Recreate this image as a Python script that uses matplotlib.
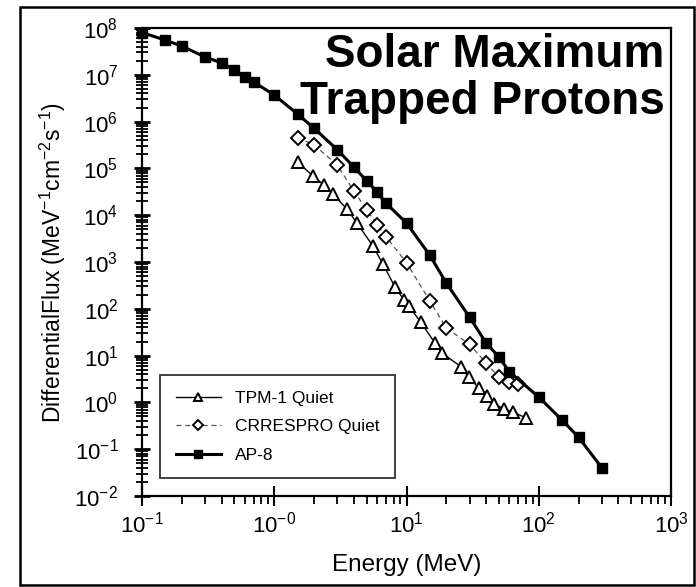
import matplotlib
matplotlib.use("Agg")
import matplotlib.pyplot as plt
from matplotlib.patches import Rectangle
from matplotlib.ticker import LogLocator, NullFormatter

plt.rcParams['font.family'] = ['Liberation Sans', 'DejaVu Sans']
plt.rcParams['mathtext.fontset'] = 'custom'
plt.rcParams['mathtext.rm'] = 'Liberation Sans'
plt.rcParams['mathtext.it'] = 'Liberation Sans:italic'
plt.rcParams['mathtext.bf'] = 'Liberation Sans:bold'

# ---- data ----
ap8_energy = [0.1, 0.15, 0.2, 0.3, 0.4, 0.5, 0.6, 0.7, 1.0, 1.5, 2, 3, 4, 5, 6, 7,
              10, 15, 20, 30, 40, 50, 60, 100, 150, 200, 300]
ap8_flux = [8e7, 5.5e7, 4.1e7, 2.4e7, 1.8e7, 1.26e7, 8.9e6, 7e6, 3.7e6, 1.45e6, 7.2e5,
            2.5e5, 1.07e5, 5.4e4, 3.1e4, 1.8e4, 6.8e3, 1.4e3, 355, 66, 18.6, 9.3, 4.5,
            1.3, 0.42, 0.18, 0.04]

crres_energy = [1.5, 2, 3, 4, 5, 6, 7, 10, 15, 20, 30, 40, 50, 60, 70]
crres_flux = [4.5e5, 3.2e5, 1.17e5, 3.3e4, 1.3e4, 6.3e3, 3.5e3, 960, 148, 39, 17.4,
              6.9, 3.5, 2.7, 2.5]

tpm_energy = [1.5, 1.96, 2.38, 2.78, 3.55, 4.22, 5.57, 6.64, 8.17, 9.55, 10.4, 12.8,
              16.4, 18.5, 25.8, 29.6, 35.2, 40.5, 45.8, 54.5, 63.7, 79.8]
tpm_flux = [1.37e5, 6.9e4, 4.4e4, 2.8e4, 1.35e4, 6.8e3, 2.2e3, 900, 295, 155, 115, 52,
            18.6, 11.4, 5.8, 3.5, 2.0, 1.37, 0.93, 0.73, 0.62, 0.47]

x_ticks = [0.1, 1, 10, 100, 1000]
x_tick_labels = [r'$\mathregular{10^{-1}}$', r'$\mathregular{10^{-0}}$',
                 r'$\mathregular{10^{1}}$', r'$\mathregular{10^{2}}$',
                 r'$\mathregular{10^{3}}$']
y_ticks = [1e-2, 1e-1, 1, 10, 1e2, 1e3, 1e4, 1e5, 1e6, 1e7, 1e8]
y_tick_labels = [r'$\mathregular{10^{%d}}$' % e for e in range(-2, 9)]

series_labels = ['TPM-1 Quiet', 'CRRESPRO Quiet', 'AP-8']
title_text = 'Solar Maximum\nTrapped Protons'

# ---- figure ----
fig = plt.figure(figsize=(6.96, 5.87), dpi=100)
ax = fig.add_axes([142/696, 1-496/587, 529/696, 468/587])
ax.set_xscale('log')
ax.set_yscale('log')
ax.set_xlim(0.1, 1000)
ax.set_ylim(1e-2, 1e8)

ax.plot(tpm_energy, tpm_flux, '-', color='black', lw=1.0, marker='^', ms=8,
        mfc='white', mec='black', mew=1.4, label=series_labels[0], zorder=3)
ax.plot(crres_energy, crres_flux, '--', color='#555555', lw=0.9, marker='D', ms=7,
        mfc='white', mec='black', mew=1.4, label=series_labels[1], zorder=3,
        dashes=(4, 3))
ax.plot(ap8_energy, ap8_flux, '-', color='black', lw=2.2, marker='s', ms=7.5,
        mfc='black', mec='black', label=series_labels[2], zorder=4, clip_on=False)

ax.set_xticks(x_ticks)
ax.set_xticklabels(x_tick_labels, fontsize=16)
ax.set_yticks(y_ticks)
ax.set_yticklabels(y_tick_labels, fontsize=16)
ax.xaxis.set_minor_locator(LogLocator(base=10, subs=range(2, 10), numticks=20))
ax.yaxis.set_minor_locator(LogLocator(base=10, subs=range(2, 10), numticks=20))
ax.xaxis.set_minor_formatter(NullFormatter())
ax.yaxis.set_minor_formatter(NullFormatter())
ax.tick_params(axis='x', which='major', direction='inout', length=14, width=1.5, pad=4)
ax.tick_params(axis='x', which='minor', direction='out', length=6, width=1.3)
ax.tick_params(axis='y', which='major', direction='inout', length=12, width=2, pad=11)
ax.tick_params(axis='y', which='minor', direction='inout', length=8, width=1.3)
for s in ax.spines.values():
    s.set_linewidth(1.6)

ax.set_xlabel('Energy (MeV)', fontsize=17.5, labelpad=12)
ax.set_ylabel(r'DifferentialFlux (MeV$\mathregular{^{-1}}$cm$\mathregular{^{-2}}$s$\mathregular{^{-1}}$)',
              fontsize=16.5, labelpad=5)

ax.text(0.988, 0.99, title_text, transform=ax.transAxes, ha='right', va='top',
        fontsize=33, fontweight='bold', linespacing=1.1)

leg = ax.legend(loc='lower left', bbox_to_anchor=(0.034, 0.038), borderaxespad=0,
                fontsize=12.5, frameon=True, fancybox=False, edgecolor='black',
                handlelength=2.6, borderpad=0.9, labelspacing=0.75, markerscale=0.8)
leg.get_frame().set_linewidth(1.3)

fig.patches.append(Rectangle((20/696, 2/587), 674/696, 578/587, transform=fig.transFigure,
                             fill=False, edgecolor='black', lw=1.8))

fig.savefig('out.png', dpi=100)
